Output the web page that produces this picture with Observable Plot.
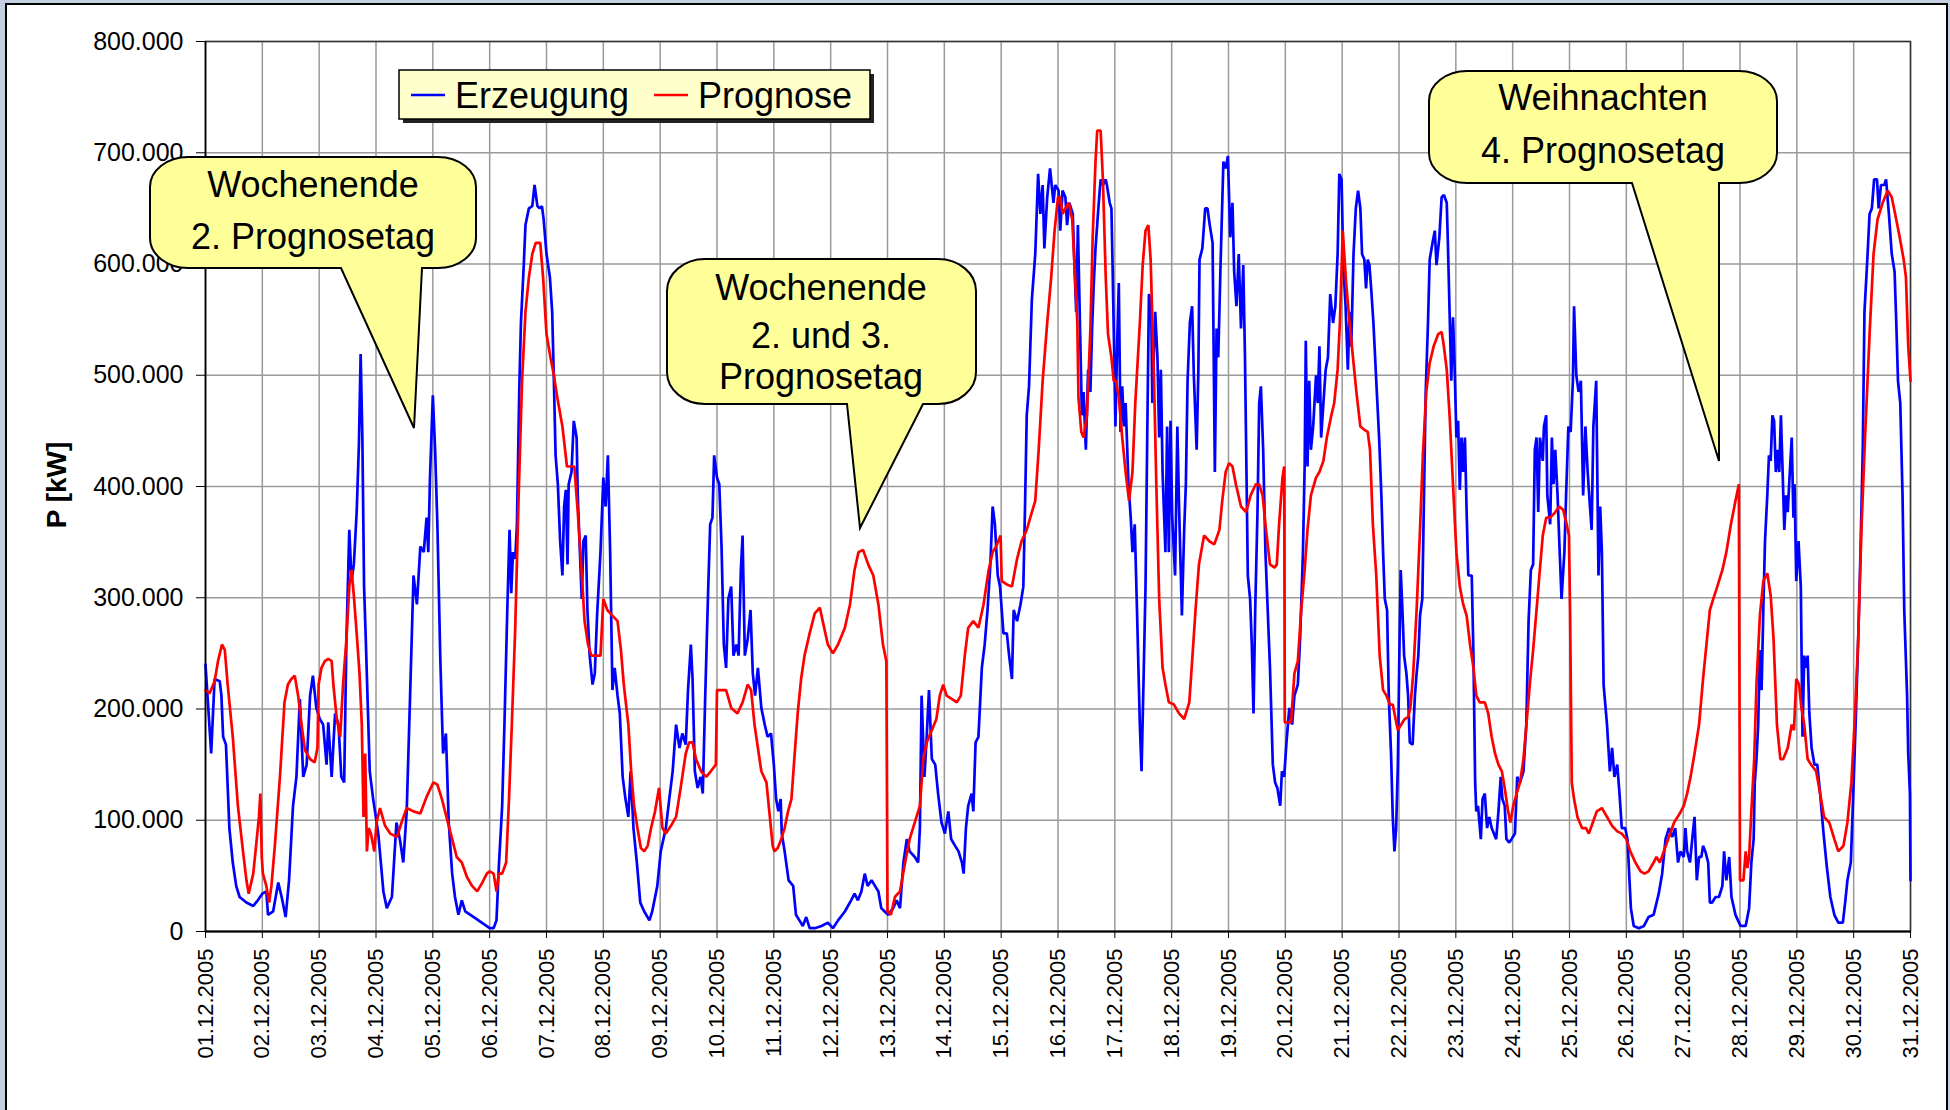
<!DOCTYPE html>
<html>
<head>
<meta charset="utf-8">
<script src="https://cdn.jsdelivr.net/npm/d3@7"></script>
<script src="https://cdn.jsdelivr.net/npm/@observablehq/plot@0.6"></script>
<style>
  html, body { margin: 0; padding: 0; background: #C4D0E2; }
  #chart svg { display: block; }
</style>
</head>
<body>
<div id="chart"></div>
<script>
// ---- Data: [days since 01.12.2005 00:00, kW / 1000] ----
const erzeugung = [
[0,240],[0.10,160],[0.16,227],[0.25,225],[0.28,212],[0.31,175],[0.36,168],[0.42,93],[0.48,62],[0.54,41],[0.60,31],[0.72,26],[0.84,23],[0.92,28],[1.00,34],[1.07,36],[1.10,15],[1.19,18],[1.28,44],[1.34,31],[1.41,13],[1.47,46],[1.54,113],[1.60,139],[1.66,209],[1.72,139],[1.78,150],[1.84,212],[1.89,230],[1.95,201],[2.01,191],[2.07,186],[2.13,150],[2.16,188],[2.22,139],[2.28,196],[2.34,186],[2.39,139],[2.44,134],[2.48,263],[2.53,361],[2.57,315],[2.61,330],[2.66,377],[2.70,439],[2.73,519],[2.76,444],[2.79,310],[2.82,263],[2.89,144],[2.95,119],[3.04,88],[3.13,36],[3.19,21],[3.28,31],[3.36,98],[3.42,83],[3.48,62],[3.54,108],[3.60,212],[3.66,320],[3.72,294],[3.78,346],[3.84,341],[3.89,372],[3.92,341],[3.95,408],[4.00,482],[4.04,433],[4.08,366],[4.13,248],[4.18,160],[4.23,178],[4.28,98],[4.34,52],[4.39,31],[4.45,15],[4.51,28],[4.57,18],[4.72,13],[4.86,8],
[5.00,3],[5.07,3],[5.12,10],[5.16,57],[5.22,113],[5.26,186],[5.31,289],[5.35,361],[5.38,304],[5.41,341],[5.45,335],[5.48,366],[5.52,485],[5.55,547],[5.60,599],[5.63,635],[5.69,650],[5.75,652],[5.79,671],[5.84,652],[5.88,650],[5.92,652],[5.95,640],[6.00,609],[6.06,588],[6.10,557],[6.13,495],[6.16,428],[6.20,402],[6.24,351],[6.28,320],[6.31,382],[6.34,397],[6.37,330],[6.39,402],[6.44,413],[6.48,459],[6.53,444],[6.55,392],[6.58,351],[6.62,299],[6.65,351],[6.69,356],[6.72,289],[6.76,248],[6.81,222],[6.85,232],[6.89,284],[6.95,341],[7.00,408],[7.04,382],[7.08,428],[7.12,341],[7.16,217],[7.20,237],[7.25,212],[7.29,196],[7.34,139],[7.39,119],[7.44,103],[7.48,144],[7.53,93],[7.59,62],[7.65,26],[7.72,18],[7.81,10],[7.86,18],[7.95,41],[8.01,72],[8.10,93],[8.16,119],[8.22,144],[8.28,186],[8.34,165],[8.39,178],[8.45,168],[8.49,217],[8.54,258],[8.57,227],[8.61,144],[8.66,129],[8.71,139],[8.75,124],[8.79,206],[8.84,299],[8.88,366],[8.92,372],[8.95,428],[9.00,408],[9.04,402],[9.08,346],[9.12,258],[9.16,237],[9.20,299],[9.25,310],[9.29,248],[9.34,258],[9.38,248],[9.42,325],[9.45,356],[9.49,248],[9.54,263],[9.59,289],[9.63,232],[9.67,212],[9.72,237],[9.78,201],[9.84,186],[9.89,175],[9.95,178],
[10.00,150],[10.04,119],[10.08,108],[10.12,119],[10.14,88],[10.19,72],[10.26,46],[10.34,41],[10.39,15],[10.45,10],[10.51,5],[10.57,13],[10.63,3],[10.72,3],[10.84,5],[10.95,8],[11.04,3],[11.13,10],[11.25,18],[11.36,28],[11.42,34],[11.48,28],[11.54,36],[11.60,52],[11.65,41],[11.72,46],[11.78,41],[11.84,36],[11.89,21],[11.95,18],[12.01,15],[12.10,21],[12.16,28],[12.22,21],[12.28,62],[12.34,83],[12.39,72],[12.48,67],[12.54,62],[12.57,93],[12.60,212],[12.65,139],[12.69,175],[12.73,217],[12.78,155],[12.84,150],[12.89,124],[12.95,98],[13.01,88],[13.07,108],[13.12,83],[13.19,77],[13.25,72],[13.31,62],[13.34,52],[13.38,93],[13.42,113],[13.48,124],[13.51,108],[13.55,170],[13.60,175],[13.66,237],[13.71,258],[13.76,289],[13.81,330],[13.85,382],[13.89,366],[13.94,320],[13.98,310],[14.04,268],[14.10,268],[14.14,248],[14.19,227],[14.22,289],[14.28,279],[14.34,294],[14.39,310],[14.42,382],[14.45,464],[14.49,490],[14.54,568],[14.60,609],[14.65,681],[14.69,645],[14.73,671],[14.76,614],[14.81,660],[14.86,686],[14.92,655],[14.95,671],[15.01,666],
[15.04,630],[15.08,666],[15.13,660],[15.16,635],[15.20,655],[15.26,645],[15.29,599],[15.32,557],[15.35,635],[15.39,537],[15.42,464],[15.45,485],[15.49,433],[15.53,505],[15.57,485],[15.60,542],[15.63,583],[15.66,614],[15.71,650],[15.75,676],[15.79,671],[15.84,676],[15.86,671],[15.91,655],[15.94,650],[15.96,599],[15.99,516],[16.01,454],[16.04,526],[16.07,583],[16.10,449],[16.13,490],[16.16,454],[16.19,475],[16.24,402],[16.28,372],[16.31,341],[16.35,366],[16.39,289],[16.44,186],[16.47,144],[16.51,237],[16.54,310],[16.57,444],[16.60,573],[16.64,562],[16.66,475],[16.71,557],[16.75,516],[16.78,444],[16.81,505],[16.84,413],[16.89,341],[16.92,454],[16.95,341],[16.98,459],[17.01,372],[17.06,320],[17.10,454],[17.13,382],[17.18,284],[17.22,361],[17.25,402],[17.28,495],[17.32,547],[17.36,562],[17.39,500],[17.44,433],[17.47,505],[17.49,604],[17.54,614],[17.59,650],[17.63,650],[17.67,635],[17.72,619],[17.76,413],[17.79,542],[17.82,516],[17.86,599],[17.91,692],[17.95,686],[17.99,697],[18.03,624],[18.07,655],[18.10,593],[18.14,562],[18.18,609],[18.22,542],[18.26,599],[18.29,516],[18.34,320],[18.38,299],[18.41,258],[18.44,196],[18.47,289],[18.51,377],[18.54,475],[18.57,490],[18.61,433],[18.65,341],[18.69,289],[18.73,237],[18.78,150],[18.82,134],[18.86,129],[18.91,113],[18.94,144],[18.98,139],[19.02,170],[19.07,201],[19.12,186],[19.16,212],[19.22,222],[19.26,263],[19.31,341],[19.34,418],[19.36,531],[19.39,418],[19.42,495],[19.45,433],[19.49,454],[19.54,500],[19.57,475],[19.60,526],[19.63,444],[19.67,475],[19.71,505],[19.75,516],[19.79,573],[19.84,547],[19.88,562],[19.92,609],[19.95,681],[19.99,676],
[20.02,599],[20.06,562],[20.10,505],[20.13,557],[20.16,526],[20.20,609],[20.24,650],[20.28,666],[20.32,650],[20.35,609],[20.39,604],[20.42,578],[20.45,604],[20.48,599],[20.51,578],[20.55,547],[20.60,495],[20.65,444],[20.69,392],[20.72,341],[20.75,299],[20.79,289],[20.82,212],[20.86,160],[20.89,103],[20.92,72],[20.95,93],[20.98,150],[21.01,263],[21.03,325],[21.06,289],[21.09,248],[21.13,232],[21.16,212],[21.19,170],[21.24,168],[21.28,212],[21.31,232],[21.34,248],[21.37,284],[21.41,299],[21.44,392],[21.47,485],[21.51,547],[21.54,604],[21.59,619],[21.63,630],[21.66,599],[21.71,624],[21.75,660],[21.79,662],[21.84,655],[21.86,619],[21.89,557],[21.92,495],[21.95,552],[21.98,505],[22.01,444],[22.04,459],[22.07,397],[22.10,444],[22.13,413],[22.16,444],[22.19,377],[22.22,320],[22.28,320],[22.31,248],[22.34,134],[22.36,108],[22.39,113],[22.44,83],[22.47,119],[22.51,124],[22.55,93],[22.59,103],[22.63,93],[22.67,88],[22.71,83],[22.75,108],[22.79,139],[22.82,119],[22.86,113],[22.89,83],[22.94,80],[22.98,83],[23.04,88],[23.08,139],[23.13,134],[23.19,144],[23.24,186],[23.28,279],[23.32,325],[23.36,330],[23.39,433],[23.42,444],[23.45,377],[23.48,444],[23.53,423],[23.55,454],[23.59,464],[23.61,392],[23.66,366],[23.69,444],[23.72,402],[23.75,433],[23.79,392],[23.82,351],[23.86,299],[23.91,341],[23.94,392],[23.98,454],[24.02,449],[24.06,495],[24.08,562],[24.12,500],[24.16,485],[24.20,495],[24.24,392],[24.28,454],[24.32,413],[24.36,382],[24.39,361],[24.42,454],[24.47,495],[24.51,320],[24.54,382],[24.57,341],[24.60,222],[24.66,186],[24.71,144],[24.75,165],[24.79,139],[24.84,150],[24.88,124],[24.92,93],[24.98,93],[25.02,83],
[25.08,21],[25.13,5],[25.22,3],[25.31,5],[25.39,13],[25.48,15],[25.57,34],[25.63,52],[25.69,83],[25.75,93],[25.81,85],[25.86,93],[25.91,62],[25.95,72],[26.01,67],[26.04,93],[26.07,72],[26.12,62],[26.16,83],[26.20,103],[26.24,46],[26.28,67],[26.32,67],[26.35,77],[26.39,72],[26.44,62],[26.47,26],[26.51,26],[26.57,31],[26.63,31],[26.69,41],[26.72,72],[26.76,46],[26.81,67],[26.85,31],[26.92,15],[27.01,5],[27.10,5],[27.16,21],[27.20,62],[27.24,83],[27.26,134],[27.29,155],[27.32,186],[27.35,253],[27.38,217],[27.41,289],[27.44,351],[27.48,392],[27.51,428],[27.54,423],[27.57,464],[27.60,459],[27.63,413],[27.66,433],[27.69,413],[27.72,464],[27.75,413],[27.78,361],[27.81,392],[27.84,377],[27.86,397],[27.91,444],[27.94,372],[27.96,402],[27.99,315],[28.03,351],[28.07,310],[28.10,175],[28.13,248],[28.16,237],[28.19,248],[28.22,196],[28.26,165],[28.31,150],[28.36,150],[28.41,124],[28.47,88],[28.53,57],[28.59,31],[28.66,15],[28.73,8],[28.81,8],[28.85,26],[28.89,46],[28.95,62],[29.00,134],[29.04,196],[29.08,263],[29.12,341],[29.16,433],[29.19,557],[29.24,604],[29.28,645],[29.32,650],[29.36,676],[29.41,676],[29.44,650],[29.48,671],[29.54,671],[29.57,676],[29.62,645],[29.67,609],[29.72,593],[29.75,547],[29.78,495],[29.82,475],[29.86,392],[29.89,289],[29.94,212],[29.96,160],[29.99,124],[30.00,46]
];

const prognose = [
[0,217],[0.07,214],[0.16,225],[0.22,243],[0.29,258],[0.34,253],[0.39,222],[0.48,175],[0.57,113],[0.66,72],[0.72,46],[0.76,34],[0.84,52],[0.89,77],[0.94,103],[0.965,124],[0.99,67],[1.01,52],[1.07,41],[1.12,26],[1.16,41],[1.22,77],[1.31,139],[1.39,206],[1.45,222],[1.51,227],[1.57,230],[1.63,212],[1.69,186],[1.75,163],[1.84,155],[1.92,152],[1.97,165],[1.99,222],[2.04,237],[2.10,243],[2.16,245],[2.22,243],[2.25,222],[2.31,191],[2.37,175],[2.42,222],[2.48,263],[2.53,310],[2.57,325],[2.61,302],[2.66,268],[2.71,232],[2.75,186],[2.78,103],[2.81,160],[2.84,72],[2.87,93],[2.91,88],[2.97,72],[3.01,98],[3.07,111],[3.16,95],[3.25,88],[3.37,85],[3.45,98],[3.54,111],[3.66,108],[3.78,106],[3.89,121],[4.01,134],[4.08,132],[4.16,119],[4.25,101],[4.34,83],[4.42,67],[4.51,62],[4.60,49],[4.69,41],[4.78,36],[4.87,44],[4.95,52],
[5.00,54],[5.07,52],[5.12,36],[5.16,52],[5.22,52],[5.29,62],[5.34,119],[5.39,186],[5.45,273],[5.51,392],[5.57,495],[5.63,557],[5.69,588],[5.75,609],[5.81,619],[5.89,619],[5.94,588],[6.00,537],[6.07,516],[6.13,500],[6.19,480],[6.28,454],[6.36,418],[6.44,418],[6.49,418],[6.55,377],[6.61,330],[6.67,279],[6.73,258],[6.79,248],[6.86,248],[6.95,248],[7.00,299],[7.07,289],[7.16,284],[7.25,279],[7.31,253],[7.36,222],[7.44,186],[7.49,144],[7.54,113],[7.60,93],[7.66,75],[7.72,72],[7.78,77],[7.84,93],[7.91,108],[7.98,129],[8.04,93],[8.10,88],[8.19,95],[8.28,103],[8.36,129],[8.45,160],[8.51,170],[8.57,170],[8.63,155],[8.72,144],[8.81,139],[8.89,144],[8.98,150],[9.00,217],[9.07,217],[9.16,217],[9.25,201],[9.36,196],[9.45,206],[9.54,222],[9.60,217],[9.66,186],[9.72,165],[9.78,144],[9.87,134],[9.92,108],[9.98,77],
[10.01,72],[10.07,75],[10.13,83],[10.19,93],[10.25,108],[10.31,119],[10.36,155],[10.42,196],[10.48,227],[10.54,248],[10.63,268],[10.72,286],[10.81,291],[10.86,279],[10.95,258],[11.04,250],[11.13,258],[11.25,273],[11.34,294],[11.42,325],[11.49,341],[11.57,343],[11.66,330],[11.75,320],[11.84,294],[11.92,258],[11.98,243],[12.00,18],[12.06,15],[12.13,31],[12.22,36],[12.31,62],[12.39,83],[12.48,98],[12.57,113],[12.63,155],[12.69,170],[12.78,181],[12.86,191],[12.92,212],[12.98,222],[13.04,212],[13.13,209],[13.22,206],[13.29,212],[13.36,248],[13.42,273],[13.51,279],[13.60,273],[13.69,294],[13.78,325],[13.85,341],[13.91,346],[13.95,351],[13.99,356],[14.01,315],[14.10,312],[14.19,310],[14.28,335],[14.36,351],[14.45,361],[14.54,377],[14.60,387],[14.66,433],[14.73,495],[14.81,547],[14.88,588],[14.94,630],[15.00,660],
[15.04,660],[15.08,645],[15.13,650],[15.19,655],[15.25,640],[15.29,599],[15.34,547],[15.36,480],[15.41,449],[15.45,444],[15.51,464],[15.57,542],[15.61,624],[15.66,692],[15.69,720],[15.75,720],[15.79,676],[15.84,588],[15.88,537],[15.94,516],[15.98,495],[16.02,495],[16.07,480],[16.13,444],[16.19,413],[16.25,387],[16.31,413],[16.36,475],[16.44,547],[16.49,599],[16.54,630],[16.59,635],[16.63,604],[16.69,495],[16.73,402],[16.78,299],[16.84,237],[16.89,222],[16.95,206],[17.04,204],[17.13,196],[17.22,191],[17.31,206],[17.36,243],[17.42,289],[17.48,330],[17.57,356],[17.66,351],[17.75,348],[17.84,361],[17.89,387],[17.95,413],[18.01,421],[18.07,418],[18.13,402],[18.22,382],[18.31,377],[18.39,392],[18.48,402],[18.54,402],[18.60,392],[18.66,361],[18.73,330],[18.81,327],[18.85,330],[18.89,366],[18.95,408],[18.98,418],[18.99,188],[19.04,188],[19.10,188],[19.16,232],[19.22,243],[19.28,289],[19.34,325],[19.39,361],[19.45,392],[19.54,408],[19.60,413],[19.67,423],[19.73,444],[19.81,464],[19.86,475],[19.92,505],[19.96,547],[20.01,630],
[20.07,583],[20.13,547],[20.19,516],[20.25,485],[20.32,454],[20.39,451],[20.45,449],[20.49,433],[20.54,366],[20.60,320],[20.66,248],[20.72,217],[20.78,212],[20.84,204],[20.89,204],[20.94,191],[20.98,181],[21.04,186],[21.10,191],[21.16,193],[21.20,201],[21.25,232],[21.31,289],[21.37,361],[21.42,428],[21.48,485],[21.54,511],[21.61,526],[21.69,537],[21.75,539],[21.79,526],[21.84,505],[21.89,464],[21.95,402],[22.01,341],[22.07,310],[22.13,294],[22.19,284],[22.25,258],[22.31,237],[22.36,212],[22.42,206],[22.51,206],[22.57,196],[22.63,175],[22.69,160],[22.75,150],[22.81,144],[22.86,129],[22.92,108],[22.96,98],[23.01,113],[23.07,124],[23.13,134],[23.19,155],[23.25,191],[23.31,227],[23.36,253],[23.42,289],[23.47,320],[23.53,356],[23.59,372],[23.66,372],[23.75,377],[23.82,382],[23.89,379],[23.95,366],[23.99,356],[24.01,289],[24.04,134],[24.08,119],[24.14,103],[24.22,93],[24.29,93],[24.34,88],[24.39,95],[24.48,108],[24.57,111],[24.66,103],[24.75,95],[24.84,90],[24.92,88],[25.00,83],
[25.07,72],[25.16,62],[25.25,54],[25.32,52],[25.39,54],[25.48,62],[25.53,67],[25.59,62],[25.66,72],[25.75,85],[25.84,98],[25.94,106],[26.01,113],[26.07,124],[26.13,139],[26.20,160],[26.28,186],[26.35,227],[26.41,258],[26.47,289],[26.53,299],[26.60,310],[26.69,325],[26.76,341],[26.84,366],[26.92,387],[26.98,402],[27.00,46],[27.06,46],[27.10,72],[27.13,57],[27.16,67],[27.20,108],[27.25,155],[27.29,222],[27.35,284],[27.41,315],[27.48,322],[27.54,302],[27.59,263],[27.65,186],[27.71,155],[27.76,155],[27.84,165],[27.91,186],[27.95,181],[27.99,227],[28.04,222],[28.08,201],[28.13,186],[28.19,155],[28.25,150],[28.34,144],[28.41,124],[28.48,103],[28.57,98],[28.66,83],[28.73,72],[28.82,77],[28.89,98],[28.96,134],[29.02,191],[29.08,263],[29.14,366],[29.20,444],[29.28,537],[29.35,609],[29.42,640],[29.51,655],[29.60,666],[29.67,660],[29.73,645],[29.81,624],[29.88,604],[29.92,588],[29.96,526],[30.00,495]
];

const seriesNames = ["Erzeugung", "Prognose"];
const seriesColors = ["#0000FF", "#FF0000"];
const yTicks = [0, 100, 200, 300, 400, 500, 600, 700, 800];   // in 1000 kW
const yLabel = "P [kW]";
const callouts = [
  {lines: ["Wochenende", "2. Prognosetag"]},
  {lines: ["Wochenende", "2. und 3.", "Prognosetag"]},
  {lines: ["Weihnachten", "4. Prognosetag"]}
];

// ---- helpers ----
const t0 = Date.UTC(2005, 11, 1);
const toDate = t => new Date(t0 + t * 864e5);
const days = d3.utcDay.range(toDate(0), toDate(30.5));
const deLocale = d3.formatLocale({decimal: ",", thousands: ".", grouping: [3], currency: ["", ""]});
const fmtK = deLocale.format(",");
const fmtDate = d3.utcFormat("%d.%m.%Y");
const FONT = "'Liberation Sans', Arial, sans-serif";

const chart = Plot.plot({
  width: 1950,
  height: 1110,
  marginLeft: 205,
  marginRight: 40,
  marginTop: 41,
  marginBottom: 179,
  style: {background: "transparent", fontFamily: FONT, color: "#000", overflow: "visible"},
  x: {type: "utc", domain: [toDate(0), toDate(30)]},
  y: {domain: [0, 800]},
  marks: [
    Plot.gridX({ticks: days, stroke: "#9a9a9a", strokeOpacity: 1, strokeWidth: 1.5}),
    Plot.gridY({ticks: yTicks, stroke: "#9a9a9a", strokeOpacity: 1, strokeWidth: 1.5}),
    Plot.frame({stroke: "#333", strokeWidth: 1.5}),
    Plot.line(erzeugung, {x: d => toDate(d[0]), y: d => d[1], stroke: seriesColors[0], strokeWidth: 2.7, strokeLinejoin: "miter"}),
    Plot.line(prognose, {x: d => toDate(d[0]), y: d => d[1], stroke: seriesColors[1], strokeWidth: 2.7, strokeLinejoin: "miter"}),
    Plot.axisY({ticks: yTicks, tickFormat: d => fmtK(d * 1000), tickSize: 9, tickPadding: 13, fontSize: 25, label: null}),
    Plot.axisX({ticks: days, tickFormat: fmtDate, tickRotate: -90, tickSize: 7, tickPadding: 10, fontSize: 22, label: null}),
    Plot.ruleY([0], {stroke: "#000", strokeWidth: 2}),
    Plot.ruleX([toDate(0)], {stroke: "#000", strokeWidth: 1.5})
  ]
});

document.getElementById("chart").appendChild(chart);
const svg = d3.select(chart);

// outer white chart area with black border
svg.insert("rect", ":first-child")
  .attr("x", 6).attr("y", 4).attr("width", 1941).attr("height", 1120)
  .attr("fill", "#fff").attr("stroke", "#000").attr("stroke-width", 2);

// y-axis title
svg.append("text")
  .attr("transform", "translate(66,485) rotate(-90)")
  .attr("text-anchor", "middle")
  .attr("font-family", FONT).attr("font-weight", "bold").attr("font-size", 28)
  .attr("fill", "#000")
  .text(yLabel);

// legend
const lg = svg.append("g").attr("font-family", FONT).attr("text-anchor", "start");
lg.append("rect").attr("x", 403).attr("y", 74).attr("width", 471).attr("height", 49).attr("fill", "#222");
lg.append("rect").attr("x", 399).attr("y", 70).attr("width", 471).attr("height", 49)
  .attr("fill", "#FFFFCC").attr("stroke", "#000").attr("stroke-width", 1.5);
const legendItems = [
  {x1: 411, x2: 445, tx: 455},
  {x1: 654, x2: 688, tx: 698}
];
legendItems.forEach((it, i) => {
  lg.append("line").attr("x1", it.x1).attr("x2", it.x2).attr("y1", 95).attr("y2", 95)
    .attr("stroke", seriesColors[i]).attr("stroke-width", 2.5);
  lg.append("text").attr("x", it.tx).attr("y", 108).attr("font-size", 36).attr("fill", "#000")
    .attr("text-anchor", "start")
    .text(seriesNames[i]);
});

// callouts (layout in pixels)
const calloutLayout = [
  {x0: 150, y0: 157, x1: 476, y1: 268, bx0: 341, bx1: 422, tx: 414, ty: 428, rx: 38, ry: 30, cx: 313, baselines: [197, 249]},
  {x0: 667, y0: 259, x1: 976, y1: 404, bx0: 847, bx1: 923, tx: 860, ty: 528, rx: 38, ry: 32, cx: 821, baselines: [300, 348, 389]},
  {x0: 1429, y0: 71, x1: 1777, y1: 183, bx0: 1632, bx1: 1719, tx: 1719, ty: 461, rx: 38, ry: 30, cx: 1603, baselines: [110, 163]}
];
calloutLayout.forEach((c, i) => {
  const p = `M${c.x0 + c.rx},${c.y0} H${c.x1 - c.rx} A${c.rx},${c.ry} 0 0 1 ${c.x1},${c.y0 + c.ry} V${c.y1 - c.ry} A${c.rx},${c.ry} 0 0 1 ${c.x1 - c.rx},${c.y1} H${c.bx1} L${c.tx},${c.ty} L${c.bx0},${c.y1} H${c.x0 + c.rx} A${c.rx},${c.ry} 0 0 1 ${c.x0},${c.y1 - c.ry} V${c.y0 + c.ry} A${c.rx},${c.ry} 0 0 1 ${c.x0 + c.rx},${c.y0} Z`;
  const g = svg.append("g");
  g.append("path").attr("d", p).attr("fill", "#FFFF99").attr("stroke", "#000").attr("stroke-width", 2).attr("stroke-linejoin", "miter");
  callouts[i].lines.forEach((line, j) => {
    g.append("text").attr("x", c.cx).attr("y", c.baselines[j])
      .attr("text-anchor", "middle").attr("font-family", FONT).attr("font-size", 36).attr("fill", "#000")
      .text(line);
  });
});
</script>
</body>
</html>
